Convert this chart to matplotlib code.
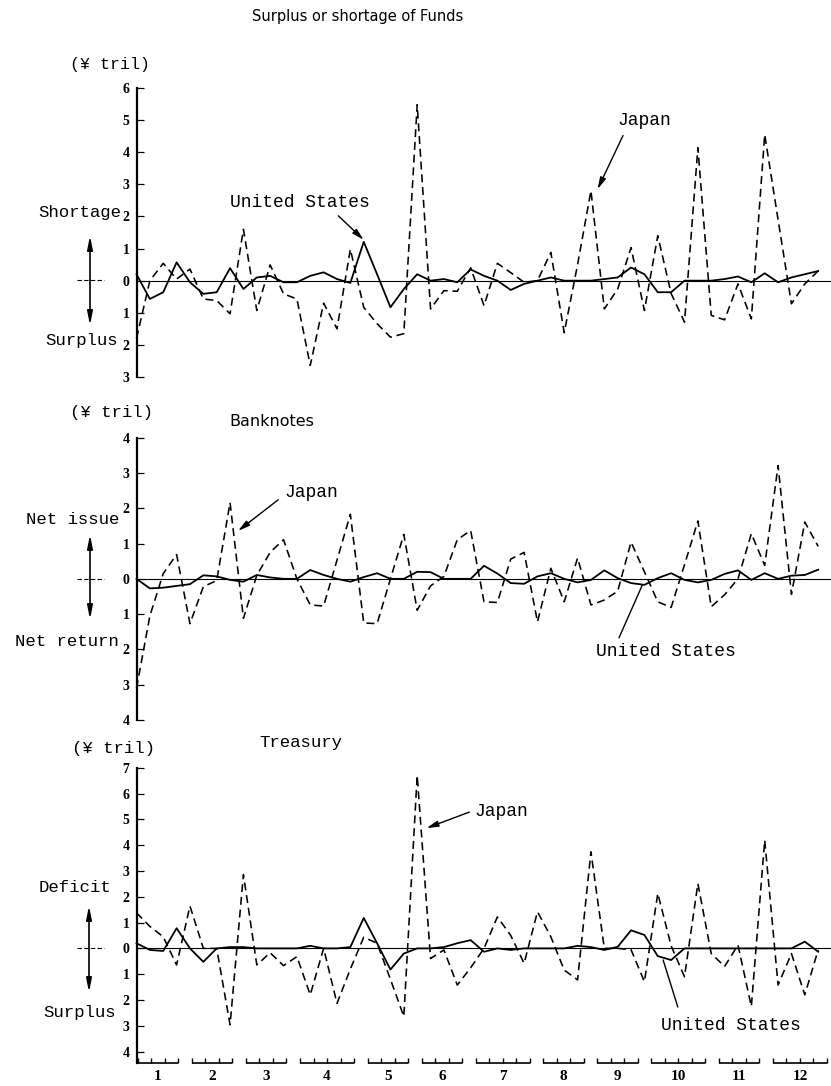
import numpy as np
import matplotlib
matplotlib.use("Agg")
import matplotlib.pyplot as plt
from matplotlib.patches import FancyArrowPatch

# ---------------- data (weekly, ¥ trillion) ----------------
weeks_per_month = [4, 4, 4, 5, 4, 4, 5, 4, 4, 5, 4, 5]
month_labels = ["1", "2", "3", "4", "5", "6", "7", "8", "9", "10", "11", "12"]

funds_japan = [-1.8, 0.0, 0.54, 0.05, 0.36, -0.57, -0.62, -1.03, 1.6, -0.93,
               0.49, -0.41, -0.57, -2.64, -0.7, -1.5, 0.98, -0.83, -1.34, -1.76,
               -1.65, 5.48, -0.88, -0.31, -0.33, 0.4, -0.78, 0.54, 0.25, -0.05,
               0.0, 0.88, -1.62, 0.5, 2.8, -0.88, -0.26, 1.03, -0.93, 1.4,
               -0.4, -1.29, 4.14, -1.08, -1.22, -0.1, -1.19, 4.55, 1.9, -0.72,
               -0.1, 0.3]
funds_us = [0.2, -0.57, -0.36, 0.57, -0.05, -0.41, -0.36, 0.39, -0.26, 0.1,
            0.15, -0.05, -0.05, 0.15, 0.26, 0.05, -0.07, 1.21, 0.2, -0.83,
            -0.26, 0.2, 0.0, 0.05, -0.05, 0.35, 0.15, 0.0, -0.29, -0.1,
            0.0, 0.1, 0.0, 0.0, 0.0, 0.05, 0.1, 0.41, 0.2, -0.36,
            -0.36, 0.0, 0.0, 0.0, 0.05, 0.13, -0.05, 0.23, -0.05, 0.1,
            0.2, 0.3]
bank_japan = [-3.1, -1.05, 0.15, 0.69, -1.27, -0.22, -0.05, 2.16, -1.12, 0.1,
              0.75, 1.11, 0.0, -0.74, -0.77, 0.53, 1.83, -1.25, -1.27, 0.0,
              1.26, -0.89, -0.2, 0.07, 1.11, 1.37, -0.65, -0.67, 0.56, 0.75,
              -1.22, 0.3, -0.65, 0.59, -0.74, -0.6, -0.35, 1.04, 0.2, -0.65,
              -0.81, 0.4, 1.64, -0.79, -0.45, 0.0, 1.28, 0.38, 3.21, -0.44,
              1.61, 0.92]
bank_us = [0.0, -0.27, -0.25, -0.2, -0.15, 0.1, 0.07, -0.03, -0.08, 0.11,
           0.04, 0.0, 0.0, 0.25, 0.11, 0.0, -0.08, 0.05, 0.16, 0.0,
           0.0, 0.2, 0.19, 0.0, 0.0, 0.0, 0.37, 0.15, -0.12, -0.14,
           0.07, 0.16, 0.0, -0.1, -0.03, 0.24, 0.02, -0.12, -0.17, 0.02,
           0.16, -0.03, -0.1, -0.03, 0.14, 0.24, -0.03, 0.16, 0.0, 0.09,
           0.11, 0.26]
treas_japan = [1.38, 0.85, 0.45, -0.64, 1.64, 0.0, 0.0, -2.96, 2.86, -0.64,
               -0.17, -0.67, -0.32, -1.8, 0.0, -2.13, -0.8, 0.43, 0.2, -1.2,
               -2.64, 6.7, -0.39, -0.06, -1.42, -0.75, 0.0, 1.22, 0.5, -0.58,
               1.42, 0.45, -0.84, -1.22, 3.74, 0.0, 0.0, -0.05, -1.29, 2.13,
               0.1, -1.1, 2.51, -0.2, -0.7, 0.13, -2.25, 4.19, -1.42, -0.2,
               -1.8, -0.06]
treas_us = [0.2, -0.06, -0.1, 0.78, 0.0, -0.52, 0.0, 0.05, 0.05, 0.0,
            0.0, 0.0, 0.0, 0.1, 0.0, 0.0, 0.05, 1.18, 0.2, -0.82,
            -0.2, 0.0, 0.0, 0.05, 0.2, 0.32, -0.13, 0.0, -0.06, 0.0,
            0.0, 0.0, 0.0, 0.1, 0.05, -0.06, 0.06, 0.7, 0.52, -0.3,
            -0.45, 0.0, 0.0, 0.0, 0.0, 0.0, 0.0, 0.0, 0.0, 0.0,
            0.26, -0.13]

# ---------------- figure ----------------
W, H = 831, 1086
fig = plt.figure(figsize=(W / 100, H / 100), dpi=100)
MONO = ["Liberation Mono", "DejaVu Sans Mono"]
NARROW = ["Liberation Sans Narrow", "DejaVu Sans"]
SERIF = ["Liberation Serif", "DejaVu Serif"]


def P(x, y):
    return (x / W, 1 - y / H)


def rect(top_px, bottom_px):
    left = 136.5
    return [left / W, 1 - bottom_px / H, (W - left) / W, (bottom_px - top_px) / H]


weeks = np.arange(len(funds_japan))
XMAX = 51.96


def setup(ax, ylo, yhi, ticks):
    ax.set_xlim(0, XMAX)
    ax.set_ylim(ylo, yhi)
    for s in ["top", "right", "bottom"]:
        ax.spines[s].set_visible(False)
    ax.spines["left"].set_linewidth(1.6)
    ax.set_xticks([])
    ax.set_yticks(ticks)
    ax.set_yticklabels([str(abs(int(t))) for t in ticks],
                       fontfamily=SERIF, fontweight="bold", fontsize=10)
    ax.tick_params(axis="y", direction="in", length=5, width=0.9, pad=5)
    ax.axhline(0, color="black", lw=0.8, zorder=1)
    ax.patch.set_alpha(0)


def series(ax, jp, us):
    ax.plot(weeks, jp, color="black", lw=1.15, dashes=(5, 3), zorder=3, clip_on=False)
    ax.plot(weeks, us, color="black", lw=1.3, zorder=4, clip_on=False)


def note(ax, text, txy, start, end, head=True):
    ax.text(*txy, text, fontfamily=MONO, fontsize=13, ha="center", va="center")
    style = "-|>,head_length=0.7,head_width=0.18" if head else "-"
    ax.annotate("", xy=end, xytext=start,
                arrowprops=dict(arrowstyle=style, color="black", lw=1.0,
                                mutation_scale=10, shrinkA=0, shrinkB=0))


def side(up_txt, up_xy, dn_txt, dn_xy, x, y0, y1, yz):
    fig.text(*P(*up_xy), up_txt, fontfamily=MONO, fontsize=12.5, ha="right", va="center")
    fig.text(*P(*dn_xy), dn_txt, fontfamily=MONO, fontsize=12.5, ha="right", va="center")
    fig.add_artist(FancyArrowPatch(P(x, y0), P(x, y1), transform=fig.transFigure,
                                   arrowstyle="<|-|>,head_length=0.8,head_width=0.16",
                                   mutation_scale=10, lw=1.2, color="black"))
    fig.add_artist(plt.Line2D([77 / W, 104 / W], [1 - yz / H] * 2, transform=fig.transFigure,
                              color="black", lw=0.8, dashes=(4, 2)))


# ---- top: surplus or shortage of funds ----
ax1 = fig.add_axes(rect(88, 377))
setup(ax1, -3, 6, range(-3, 7))
series(ax1, funds_japan, funds_us)
note(ax1, "United States", (12.2, 2.42), (15.1, 2.02), (17.0, 1.27))
note(ax1, "Japan", (38.0, 4.98), (36.4, 4.52), (34.5, 2.85))
fig.text(*P(358, 17), "Surplus or shortage of Funds", fontfamily=NARROW, fontsize=10.5,
         ha="center", va="center")
fig.text(*P(110, 65), "(¥ tril)", fontfamily=MONO, fontsize=12, ha="center", va="center")
side("Shortage", (121, 213), "Surplus", (118, 340), 90, 233, 328, 280)

# ---- middle: banknotes ----
ax2 = fig.add_axes(rect(437.7, 720))
setup(ax2, -4, 4, range(-4, 5))
series(ax2, bank_japan, bank_us)
note(ax2, "Japan", (13.1, 2.44), (10.6, 2.24), (7.6, 1.36))
note(ax2, "United States", (39.6, -2.07), (36.1, -1.67), (37.85, -0.17), head=False)
fig.text(*P(111, 413), "(¥ tril)", fontfamily=MONO, fontsize=12.5, ha="center", va="center")
fig.text(*P(272, 421), "Banknotes", fontfamily=NARROW, fontsize=11.5, ha="center", va="center")
side("Net issue", (119, 520), "Net return", (119, 641), 90, 532, 622, 579)

# ---- bottom: treasury ----
ax3 = fig.add_axes(rect(767.7, 1063))
YB = -4.44
setup(ax3, YB, 7, range(-4, 8))
series(ax3, treas_japan, treas_us)
note(ax3, "Japan", (27.3, 5.31), (24.9, 5.28), (21.7, 4.66))
note(ax3, "United States", (44.5, -3.0), (40.5, -2.27), (39.4, -0.45), head=False)
fig.text(*P(114, 749), "(¥ tril)", fontfamily=MONO, fontsize=12.5, ha="center", va="center")
fig.text(*P(301, 742), "Treasury", fontfamily=MONO, fontsize=12.5, ha="center", va="center")
side("Deficit", (111, 888), "Surplus", (116, 1012), 89, 903, 995, 948)

# month brackets on the time axis
start = 0
for n, lab in zip(weeks_per_month, month_labels):
    idx = np.arange(start, start + n)
    bx = idx * 1.011 + 0.1
    ax3.plot([bx[0], bx[-1]], [YB, YB], color="black", lw=1.2, clip_on=False,
             solid_capstyle="butt")
    ax3.vlines(bx, YB, YB + 0.2, color="black", lw=1.0, clip_on=False)
    ax3.text(bx.mean(), YB - 0.52, lab, fontfamily=SERIF, fontweight="bold",
             fontsize=11, ha="center", va="center")
    start += n

fig.savefig("out.png", dpi=100, facecolor="white")
